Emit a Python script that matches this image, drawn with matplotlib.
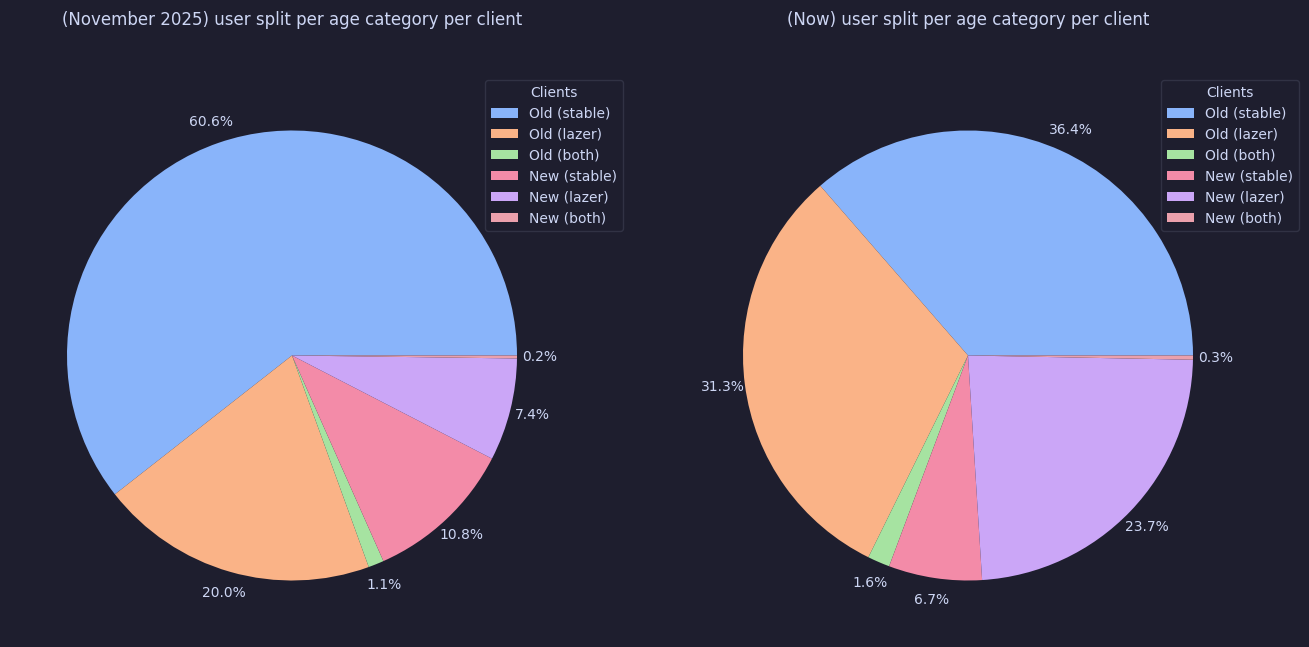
import matplotlib
matplotlib.use("Agg")
import matplotlib.pyplot as plt

# Catppuccin-ish palette
bg = "#1e1e2e"
fg = "#cdd6f4"
colors = ["#89b4fa", "#fab387", "#a6e3a1", "#f38ba8", "#cba6f7", "#eba0ac"]

clients = ["Old (stable)", "Old (lazer)", "Old (both)", "New (stable)", "New (lazer)", "New (both)"]
nov_2025 = [60.58, 19.96, 1.12, 10.76, 7.37, 0.21]
now = [36.4, 31.3, 1.6, 6.7, 23.7, 0.3]
titles = ["(November 2025) user split per age category per client",
          "(Now) user split per age category per client"]

W, H = 1309, 647
fig = plt.figure(figsize=(W / 100, H / 100), dpi=100, facecolor=bg)

# pixel layout of each pie: center x, center y, radius
centers = [(292, 355.5), (968, 355.5)]
radius = 225
legend_right = [623, 1299]

for i, (values, title) in enumerate(zip([nov_2025, now], titles)):
    cx, cy = centers[i]
    half = radius * 1.25
    ax = fig.add_axes([(cx - half) / W, (H - cy - half) / H, 2 * half / W, 2 * half / H])
    ax.set_facecolor(bg)
    wedges, _, autotexts = ax.pie(values, colors=colors, autopct="%1.1f%%",
                                  pctdistance=1.1, startangle=0)
    for t in autotexts:
        t.set_color(fg)
        t.set_fontsize(10)
    fig.text(cx / W, 1 - 25 / H, title, ha="center", va="baseline", color=fg, fontsize=12)
    leg = ax.legend(wedges, clients, title="Clients", loc="upper right",
                    bbox_to_anchor=(legend_right[i] / W, 1 - 80 / H),
                    bbox_transform=fig.transFigure, borderaxespad=0,
                    facecolor=bg, edgecolor="#313244", labelcolor=fg, fontsize=10)
    leg.get_title().set_color(fg)
    leg.get_frame().set_alpha(1)

fig.savefig("out.png", dpi=100, facecolor=bg)
